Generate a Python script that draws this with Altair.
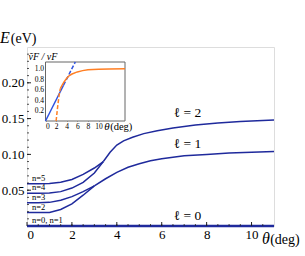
import altair as alt
import pandas as pd

# ---------------- main panel data ----------------
theta_n5 = [0, 0.5, 1.0, 1.5, 2.0, 2.5, 3.0, 3.4]
E_n5 = [0.059, 0.059, 0.0595, 0.061, 0.065, 0.072, 0.081, 0.090]
theta_n4 = [0, 0.5, 1.0, 1.5, 2.0, 2.5, 3.0, 3.4]
E_n4 = [0.0457, 0.0457, 0.046, 0.048, 0.053, 0.061, 0.074, 0.090]
theta_n3 = [0, 0.5, 1.0, 1.5, 2.0, 2.5, 3.0]
E_n3 = [0.0323, 0.0323, 0.033, 0.036, 0.041, 0.048, 0.056]
theta_n2 = [0, 0.5, 1.0, 1.5, 2.0, 2.5, 3.0]
E_n2 = [0.0187, 0.0187, 0.019, 0.023, 0.031, 0.043, 0.056]
theta_l1 = [3.0, 3.5, 4.0, 4.5, 5.0, 5.5, 6.0, 7.0, 8.0, 9.0, 10.0, 11.0]
E_l1 = [0.056, 0.066, 0.075, 0.082, 0.087, 0.091, 0.094, 0.098, 0.100, 0.102, 0.103, 0.104]
theta_l2 = [3.4, 3.7, 4.0, 4.3, 4.7, 5.2, 5.8, 6.5, 7.5, 8.5, 9.5, 11.0]
E_l2 = [0.090, 0.103, 0.113, 0.119, 0.124, 0.129, 0.133, 0.137, 0.141, 0.144, 0.146, 0.148]
theta_l0 = [0, 11]
E_l0 = [0, 0]

n_labels = ["n=5", "n=4", "n=3", "n=2", "n=0, n=1"]
n_label_E = [0.059, 0.0457, 0.0323, 0.0187, 0.0]
l_labels = ["ℓ = 2", "ℓ = 1", "ℓ = 0"]
l_label_E = [0.1475, 0.1045, 0.004]
l_label_theta = 7.15

x_tick_labels = [0, 2, 4, 6, 8, 10]
y_tick_labels = [0.05, 0.10, 0.15, 0.20]
x_minor = [i * 0.5 for i in range(1, 22)]
y_minor = [i * 0.01 for i in range(1, 25)]

# ---------------- inset data ----------------
in_blue_solid_t = [0, 3.4]
in_blue_solid_v = [0, 0.685]
in_blue_dash_t = [3.4, 5.62]
in_blue_dash_v = [0.685, 1.13]
in_orange_dash_t = [2.0, 2.3, 2.55, 2.8]
in_orange_dash_v = [0.0, 0.28, 0.48, 0.62]
in_orange_t = [2.8, 3.1, 3.5, 4.0, 4.5, 5.0, 6.0, 7.0, 8.0, 10.0, 12.0, 15.0]
in_orange_v = [0.62, 0.68, 0.75, 0.82, 0.87, 0.90, 0.94, 0.965, 0.98, 0.993, 0.998, 1.0]
in_x_ticks = [0, 2, 4, 6, 8, 10]
in_y_ticks = [0.2, 0.4, 0.6, 0.8, 1.0]

FONT = "Liberation Serif"
NAVY = "#1f2a9c"
BLUE = "#2f52e0"
ORANGE = "#ff7f24"
W, H = 247, 179

rows = []
for name, ts, es in [("n5", theta_n5, E_n5), ("n4", theta_n4, E_n4), ("n3", theta_n3, E_n3),
                     ("n2", theta_n2, E_n2), ("l1", theta_l1, E_l1), ("l2", theta_l2, E_l2)]:
    for t, e in zip(ts, es):
        rows.append({"series": name, "theta": t, "E": e})
main_df = pd.DataFrame(rows)
l0_df = pd.DataFrame({"theta": theta_l0, "E": E_l0})

xs = alt.Scale(domain=[0, 11], nice=False, zero=False)
ys = alt.Scale(domain=[0, 0.25], nice=False, zero=False)

lines = alt.Chart(main_df).mark_line(color=NAVY, strokeWidth=1.5).encode(
    x=alt.X("theta:Q", scale=xs, title=None,
            axis=alt.Axis(values=x_tick_labels, format="d", ticks=False, domain=False, grid=False,
                          labelFont=FONT, labelFontSize=13, labelColor="black", labelPadding=2)),
    y=alt.Y("E:Q", scale=ys, title=None,
            axis=alt.Axis(values=y_tick_labels, format=".2f", ticks=False, domain=False, grid=False,
                          labelFont=FONT, labelFontSize=13, labelColor="black", labelPadding=3)),
    detail="series:N",
    order="theta:Q",
)
l0 = alt.Chart(l0_df).mark_line(color=NAVY, strokeWidth=2.5).encode(x="theta:Q", y="E:Q")

xmaj = alt.Chart(pd.DataFrame({"v": x_tick_labels})).mark_rule(color="#222", strokeWidth=1).encode(
    x="v:Q", y=alt.value(H), y2=alt.value(H - 4))
xmin = alt.Chart(pd.DataFrame({"v": x_minor})).mark_rule(color="#222", strokeWidth=0.8).encode(
    x="v:Q", y=alt.value(H), y2=alt.value(H - 2))
ymaj = alt.Chart(pd.DataFrame({"v": y_tick_labels})).mark_rule(color="#222", strokeWidth=1).encode(
    y="v:Q", x=alt.value(0), x2=alt.value(4))
ymin = alt.Chart(pd.DataFrame({"v": y_minor})).mark_rule(color="#222", strokeWidth=0.8).encode(
    y="v:Q", x=alt.value(0), x2=alt.value(2))

nlab = alt.Chart(pd.DataFrame({"t": n_labels, "E": n_label_E, "x": [0.22] * 5})).mark_text(
    font=FONT, fontSize=8.5, align="left", baseline="bottom", dy=-1, color="black").encode(
    x="x:Q", y="E:Q", text="t:N")
llab = alt.Chart(pd.DataFrame({"t": l_labels, "E": l_label_E, "x": [l_label_theta] * 3})).mark_text(
    font=FONT, fontSize=13.5, align="center", baseline="bottom", color="black").encode(
    x="x:Q", y="E:Q", text="t:N")


def txt(texts, xsv, ysv, size, italic):
    df = pd.DataFrame({"t": texts, "x": xsv, "y": ysv})
    return alt.Chart(df).mark_text(font=FONT, fontSize=size, align="left", baseline="alphabetic",
                                   color="black", fontStyle="italic" if italic else "normal").encode(
        x="x:Q", y="y:Q", text="t:N")


ann_E = txt(["E"], [-1.2], [0.2555], 16, True)
ann_eV = txt(["(eV)"], [-0.72], [0.2555], 14, False)
ann_th = txt(["θ"], [10.47], [-0.0252], 16, True)
ann_deg = txt(["(deg)"], [10.83], [-0.0252], 14, False)

main = alt.layer(lines, l0, xmaj, xmin, ymaj, ymin, nlab, llab, ann_E, ann_eV, ann_th, ann_deg)

# ---------------- inset ----------------
L = 3
IX0, IX1, IY0, IY1 = 18.5, 98, 74, 15
ixs = alt.Scale(domain=[0, 15], range=[IX0, IX1], nice=False, zero=False)
iys = alt.Scale(domain=[0, 1.13], range=[IY0, IY1], nice=False, zero=False)

frame_df = pd.DataFrame({"x": [0], "x2": [15], "y": [0], "y2": [1.13]})
frame = alt.Chart(frame_df).mark_rect(fill="white", stroke="#666", strokeWidth=1).encode(
    x=alt.X("x:Q", scale=ixs, title=None,
            axis=alt.Axis(orient="bottom", offset=IY0 - L - H, tickSize=L, values=in_x_ticks, format="d",
                          domain=False, grid=False, tickColor="#666", labelFont=FONT, labelFontSize=7.5,
                          labelColor="black", labelPadding=1)),
    x2="x2:Q",
    y=alt.Y("y:Q", scale=iys, title=None,
            axis=alt.Axis(orient="left", offset=-(IX0 + L), tickSize=L, values=in_y_ticks, format=".1f",
                          domain=False, grid=False, tickColor="#666", labelFont=FONT, labelFontSize=7.5,
                          labelColor="black", labelPadding=2)),
    y2="y2:Q",
)


def seg(ts, vs, color, dash):
    df = pd.DataFrame({"t": ts, "v": vs})
    kw = {"color": color, "strokeWidth": 1.5}
    if dash:
        kw["strokeDash"] = [4, 2]
    return alt.Chart(df).mark_line(**kw).encode(x="t:Q", y="v:Q", order="t:Q")


ib1 = seg(in_blue_solid_t, in_blue_solid_v, BLUE, False)
ib2 = seg(in_blue_dash_t, in_blue_dash_v, BLUE, True)
io1 = seg(in_orange_dash_t, in_orange_dash_v, ORANGE, True)
io2 = seg(in_orange_t, in_orange_v, ORANGE, False)

i_lab = txt(["ṽF / vF"], [-3.2], [1.165], 10, True)
i_th = txt(["θ"], [11.1], [-0.17], 11, True)
i_deg = txt(["(deg)"], [12.2], [-0.17], 10.5, False)

inset = alt.layer(frame, ib1, ib2, io1, io2, i_lab, i_th, i_deg)

chart = alt.layer(main, inset).resolve_scale(x="independent", y="independent").resolve_axis(
    x="independent", y="independent").properties(
    width=W, height=H,
    autosize=alt.AutoSizeParams(type="none"),
    padding={"left": 27, "top": 47, "right": 31, "bottom": 30},
).configure_view(stroke="#222", strokeWidth=1.5).configure(background="white")

chart.save("out.html", embed_options={"renderer": "svg", "actions": False})
